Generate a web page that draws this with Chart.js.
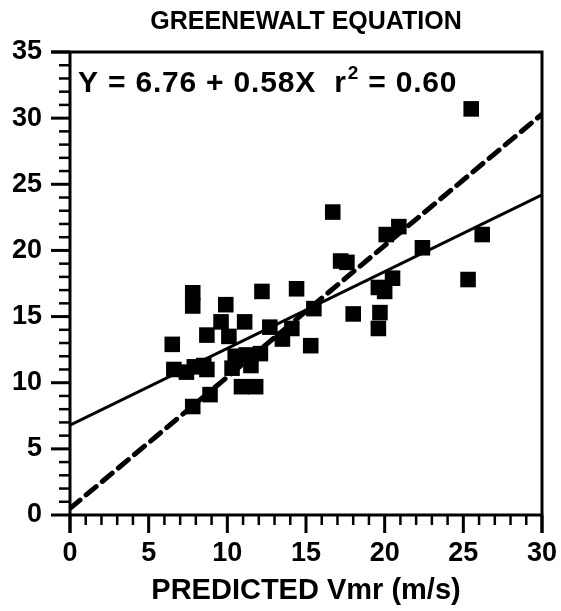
<!DOCTYPE html>
<html>
<head>
<meta charset="utf-8">
<script src="https://cdn.jsdelivr.net/npm/chart.js@4.4.1/dist/chart.umd.min.js"></script>
<style>
  html, body { margin: 0; padding: 0; background: #fff; }
  #wrap { width: 561px; height: 611px; position: relative; }
</style>
</head>
<body>
<div id="wrap"><canvas id="c" width="561" height="611"></canvas></div>
<script>
// ---- data ----
const chartTitle = 'GREENEWALT EQUATION';
const xAxisTitle = 'PREDICTED Vmr (m/s)';
const equationText = ['Y = 6.76 + 0.58X  r', '2', ' = 0.60'];

const xTicks = [0, 5, 10, 15, 20, 25, 30];
const yTicks = [0, 5, 10, 15, 20, 25, 30, 35];

const predicted = [
  6.5, 6.6, 7.4, 7.9, 8.5, 8.7, 8.7, 7.8, 7.8, 7.8, 8.9,
  9.9, 9.6, 10.1, 11.1, 10.3, 10.5, 11.2, 12.1, 10.9, 11.8, 12.2, 12.7, 11.5,
  13.5, 14.1, 14.4, 15.3, 15.5,
  16.7, 17.2, 17.6, 18.0, 19.6, 20.0, 19.7, 19.6, 20.5, 20.1, 20.9, 22.4, 25.3, 26.2, 25.5
];
const observed = [
  12.9, 11.0, 10.8, 11.2, 11.3, 11.0, 13.6, 16.8, 15.8, 8.2, 9.1,
  15.9, 14.6, 13.5, 14.6, 11.1, 12.0, 12.1, 12.2, 9.7, 9.7, 16.9, 14.2, 11.3,
  13.3, 14.1, 17.1, 12.8, 15.6,
  22.9, 19.2, 19.1, 15.2, 17.2, 16.9, 15.3, 14.1, 17.9, 21.2, 21.8, 20.2, 17.8, 21.2, 30.7
];

const fitX = [0, 30];
const fitY = [6.8, 24.2];
const identityX = [0, 30];
const identityY = [0.5, 30.3];

// ---- helpers ----
const FONT = '"Liberation Sans", Arial, Helvetica, sans-serif';
const toPts = (xs, ys) => xs.map((x, i) => ({ x: x, y: ys[i] }));

const axisDecor = {
  id: 'axisDecor',
  afterDatasetsDraw(chart) {
    const ctx = chart.ctx;
    const { left, right, top, bottom } = chart.chartArea;
    const xs = chart.scales.x, ys = chart.scales.y;
    ctx.save();
    ctx.strokeStyle = '#000';
    ctx.lineCap = 'butt';
    for (let v = ys.min; v <= ys.max; v += 1) {
      const p = ys.getPixelForValue(v);
      const major = yTicks.includes(v);
      ctx.lineWidth = major ? 3 : 2.5;
      ctx.beginPath();
      ctx.moveTo(left - (major ? 19 : 11), p);
      ctx.lineTo(left, p);
      ctx.stroke();
    }
    for (let v = xs.min; v <= xs.max; v += 1) {
      const p = xs.getPixelForValue(v);
      const major = xTicks.includes(v);
      ctx.lineWidth = major ? 3 : 2.5;
      ctx.beginPath();
      ctx.moveTo(p, bottom);
      ctx.lineTo(p, bottom + (major ? 18 : 10));
      ctx.stroke();
    }
    ctx.lineWidth = 3;
    ctx.beginPath();
    ctx.moveTo(left - 19, top);
    ctx.lineTo(right, top);
    ctx.lineTo(right, bottom + 18);
    ctx.stroke();
    ctx.beginPath();
    ctx.moveTo(left, top);
    ctx.lineTo(left, bottom + 18);
    ctx.moveTo(left, bottom);
    ctx.lineTo(right, bottom);
    ctx.stroke();
    // equation annotation
    ctx.fillStyle = '#000';
    ctx.textBaseline = 'alphabetic';
    ctx.textAlign = 'left';
    if ('letterSpacing' in ctx) ctx.letterSpacing = '0.8px';
    let x = left + 8;
    const base = top + 40;
    ctx.font = 'bold 30px ' + FONT;
    ctx.fillText(equationText[0], x, base);
    x += ctx.measureText(equationText[0]).width + 1;
    ctx.font = 'bold 19px ' + FONT;
    ctx.fillText(equationText[1], x, base - 13);
    x += ctx.measureText(equationText[1]).width;
    ctx.font = 'bold 30px ' + FONT;
    ctx.fillText(equationText[2], x, base);
    ctx.restore();
  }
};

new Chart(document.getElementById('c'), {
  type: 'scatter',
  data: {
    datasets: [
      {
        label: 'observed',
        data: toPts(predicted, observed),
        pointStyle: 'rect',
        pointRadius: 11,
        pointBorderWidth: 0,
        backgroundColor: '#000',
        borderColor: '#000',
        order: 0
      },
      {
        label: 'regression',
        type: 'line',
        data: toPts(fitX, fitY),
        borderColor: '#000',
        borderWidth: 3,
        pointRadius: 0,
        fill: false,
        order: 1
      },
      {
        label: 'identity',
        type: 'line',
        data: toPts(identityX, identityY),
        borderColor: '#000',
        borderWidth: 5,
        borderDash: [13, 8],
        borderCapStyle: 'round',
        pointRadius: 0,
        fill: false,
        order: 2
      }
    ]
  },
  options: {
    responsive: false,
    animation: false,
    devicePixelRatio: 1,
    layout: { padding: { top: 0, right: 19, bottom: 0, left: 0 } },
    plugins: {
      legend: { display: false },
      tooltip: { enabled: false },
      title: {
        display: true,
        text: chartTitle,
        fullSize: false,
        color: '#000',
        font: { family: FONT, size: 25, weight: 'bold' },
        padding: { top: 7, bottom: 15 }
      }
    },
    scales: {
      x: {
        type: 'linear',
        min: 0, max: 30,
        afterFit: (s) => { s.height = 96; s.paddingLeft = 0; s.paddingRight = 0; },
        afterBuildTicks: (s) => { s.ticks = xTicks.map(v => ({ value: v })); },
        grid: { display: false, drawTicks: false },
        border: { display: false },
        ticks: {
          color: '#000',
          padding: 22,
          maxRotation: 0,
          font: { family: FONT, size: 27, weight: 'bold' }
        },
        title: {
          display: true,
          text: xAxisTitle,
          color: '#000',
          font: { family: FONT, size: 29, weight: 'bold' },
          padding: { top: 0, bottom: 3 }
        }
      },
      y: {
        type: 'linear',
        min: 0, max: 35,
        afterFit: (s) => { s.width = 70; s.paddingTop = 0; s.paddingBottom = 0; },
        afterBuildTicks: (s) => { s.ticks = yTicks.map(v => ({ value: v })); },
        grid: { display: false, drawTicks: false },
        border: { display: false },
        ticks: {
          color: '#000',
          padding: 28,
          font: { family: FONT, size: 27, weight: 'bold' }
        }
      }
    }
  },
  plugins: [axisDecor]
});
</script>
</body>
</html>
